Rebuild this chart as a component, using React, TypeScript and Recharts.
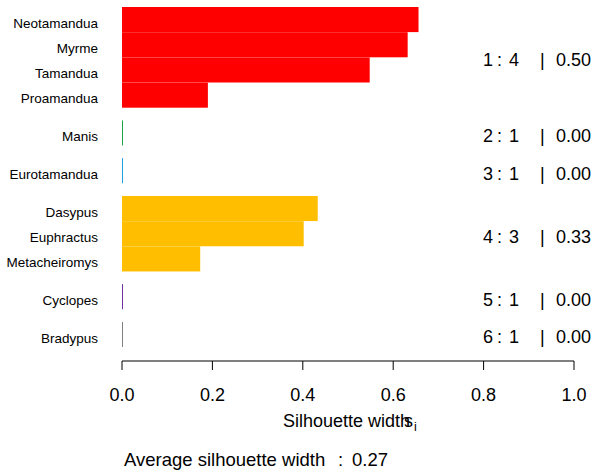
import { BarChart, Bar, XAxis, YAxis, Customized } from "recharts"

// silhouette widths, in plotting order (top to bottom)
const names = [
  "Neotamandua",
  "Myrme",
  "Tamandua",
  "Proamandua",
  "Manis",
  "Eurotamandua",
  "Dasypus",
  "Euphractus",
  "Metacheiromys",
  "Cyclopes",
  "Bradypus",
]
const widths = [0.656, 0.632, 0.548, 0.19, 0, 0, 0.433, 0.402, 0.173, 0, 0]
const clusters = [1, 1, 1, 1, 2, 3, 4, 4, 4, 5, 6]

// per cluster summary  "j : n_j | ave s_i"
const clusterIds = [1, 2, 3, 4, 5, 6]
const clusterSizes = [4, 1, 1, 3, 1, 1]
const clusterAvgs = ["0.50", "0.00", "0.00", "0.33", "0.00", "0.00"]
const clusterColors = ["#ff0000", "#1ba34b", "#1f9fe0", "#ffbf00", "#7030a0", "#808080"]

const xTicks = [0, 0.2, 0.4, 0.6, 0.8, 1.0]
const averageWidth = "0.27"

const FONT = '"Liberation Sans", Arial, Helvetica, sans-serif'

// bars touch inside a cluster, half a bar of space between clusters
let gap = 0
const data = names.map((name, i) => {
  if (i > 0 && clusters[i] !== clusters[i - 1]) gap += 0.5
  return { name, width: widths[i], cluster: clusters[i], pos: i + gap }
})

const clusterCenters = clusterIds.map((id) => {
  const rows = data.filter((d) => d.cluster === id)
  return rows.reduce((s, d) => s + d.pos, 0) / rows.length
})

// one tick list for both the row names (left) and the cluster summaries (right)
const yTicks = Array.from(new Set([...data.map((d) => d.pos), ...clusterCenters])).sort((a, b) => a - b)
const same = (a: number, b: number) => Math.abs(a - b) < 1e-6

const SilBar = (props: any) => {
  const { x, y, width, height, payload } = props
  const color = clusterColors[payload.cluster - 1]
  if (!width || width < 0.5) {
    return <line x1={x + 0.5} x2={x + 0.5} y1={y} y2={y + height} stroke={color} strokeWidth={1} />
  }
  return <rect x={x} y={y} width={width} height={height} fill={color} />
}

const RowTick = (props: any) => {
  const { x, y, payload } = props
  const row = data.find((d) => same(d.pos, payload.value))
  const j = clusterCenters.findIndex((c) => same(c, payload.value))
  return (
    <g fontFamily={FONT} fill="#000">
      {row && (
        <text x={x} y={y + 8} fontSize={13.5} textAnchor="end">
          {row.name}
        </text>
      )}
      {j >= 0 && (
        <text y={y + 8.8} fontSize={18}>
          <tspan x={483}>{clusterIds[j]}</tspan>
          <tspan x={497}>:</tspan>
          <tspan x={519} textAnchor="end">{clusterSizes[j]}</tspan>
          <tspan x={540}>|</tspan>
          <tspan x={591} textAnchor="end">{clusterAvgs[j]}</tspan>
        </text>
      )}
    </g>
  )
}

const BottomTexts = () => (
  <g fontFamily={FONT} fill="#000">
    <text x={283} y={427} fontSize={18}>Silhouette width</text>
    <text x={404} y={427} fontSize={18}>s</text>
    <text x={414} y={431} fontSize={12.5}>i</text>
    <text y={466} fontSize={18.5}>
      <tspan x={124}>Average silhouette width</tspan>
      <tspan x={338}>:</tspan>
      <tspan x={352}>{averageWidth}</tspan>
    </text>
  </g>
)

export default function App() {
  return (
    <div style={{ position: "absolute", left: 0, top: 0, width: 596, height: 474, background: "#fff" }}>
      <BarChart
        width={596}
        height={474}
        data={data}
        layout="vertical"
        margin={{ top: 7, right: 22, bottom: 53, left: 12 }}
        barCategoryGap="0%"
      >
        <XAxis
          type="number"
          dataKey="width"
          domain={[0, 1]}
          ticks={xTicks}
          allowDataOverflow
          height={60}
          tickFormatter={(v: number) => v.toFixed(1)}
          tickSize={9}
          tickMargin={18}
          stroke="#000"
          tick={{ fontSize: 18, fill: "#000", fontFamily: FONT }}
          interval={0}
        />
        <YAxis
          type="number"
          dataKey="pos"
          domain={[-0.5, 13.55]}
          allowDataOverflow
          ticks={yTicks}
          interval={0}
          axisLine={false}
          tickLine={false}
          tickSize={0}
          tickMargin={24}
          width={110}
          tick={<RowTick />}
        />
        <Bar dataKey="width" barSize={25.1} shape={<SilBar />} isAnimationActive={false} />
        <Customized component={<BottomTexts />} />
      </BarChart>
    </div>
  )
}
